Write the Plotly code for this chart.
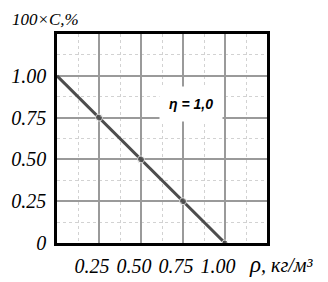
import plotly.graph_objects as go

rho = [0.0, 0.25, 0.50, 0.75, 1.00]
conc = [1.00, 0.75, 0.50, 0.25, 0.0]
tick_vals = [0.25, 0.50, 0.75, 1.00]
tick_text = ["0.25", "0.50", "0.75", "1.00"]
ytick_vals = [0, 0.25, 0.50, 0.75, 1.00]
ytick_text = ["0", "0.25", "0.50", "0.75", "1.00"]

FONT = "Liberation Serif"

fig = go.Figure()
fig.add_trace(go.Scatter(
    x=rho, y=conc, mode="lines+markers",
    line=dict(color="#4d4d4d", width=3),
    marker=dict(color="#4d4d4d", size=[0, 7, 7, 7, 6]),
    showlegend=False, cliponaxis=False,
))

axis_common = dict(
    showgrid=True, gridcolor="#9a9a9a", gridwidth=1.5,
    zeroline=False, showline=True, linecolor="black", linewidth=2.5, mirror=True,
    ticks="", range=[0, 1.25], automargin=False,
    tickfont=dict(family=FONT, size=20, color="black", style="italic"),
    minor=dict(dtick=0.125, showgrid=True, gridcolor="#d2d2d2", griddash="dot", gridwidth=1),
)
fig.update_xaxes(**axis_common, tickvals=tick_vals, ticktext=tick_text,
                 ticklabelstandoff=3, ticklabelshift=-7)
fig.update_yaxes(**axis_common, tickvals=ytick_vals, ticktext=ytick_text, ticklabelstandoff=4)

fig.add_annotation(
    x=0.798, y=0.833, xref="x", yref="y", text="<b><i>η = 1,0</i></b>", showarrow=False,
    font=dict(family="Liberation Sans", size=14, color="black"),
    bgcolor="white", borderpad=9,
)
fig.add_annotation(
    x=-0.225, y=1.067, xref="paper", yref="paper", xanchor="left", yanchor="middle",
    text="<i>100×C,%</i>", showarrow=False,
    font=dict(family=FONT, size=17, color="black"),
)
fig.add_annotation(
    x=0.905, y=-0.105, xref="paper", yref="paper", xanchor="left", yanchor="middle",
    text="<i><span style='font-size:23px'>ρ</span>, кг/м³</i>", showarrow=False,
    font=dict(family=FONT, size=20, color="black"),
)

fig.update_layout(
    width=320, height=274,
    margin=dict(l=49, r=61, t=26, b=39),
    paper_bgcolor="white", plot_bgcolor="white",
)
fig.write_html("out.html")
